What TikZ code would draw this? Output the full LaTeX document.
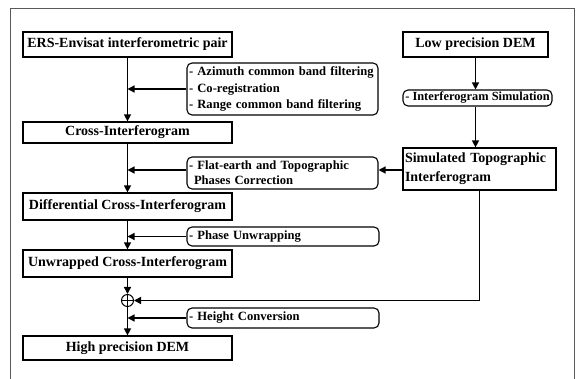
\documentclass[tikz,border=0pt]{standalone}
\usepackage{fontspec}
\setmainfont{Liberation Serif}
\usetikzlibrary{arrows.meta,calc}
\begin{document}
\begin{tikzpicture}[x=1pt,y=-1pt,
  titlebox/.style={draw=black,line width=1.2pt,inner sep=0pt,minimum height=#1,
     font=\fontsize{14}{17}\selectfont\bfseries},
  procbox/.style={draw=black,line width=1.1pt,rounded corners=5pt,inner xsep=2pt,inner ysep=0pt,
     minimum height=#1,align=left,font=\fontsize{12.6}{16.5}\selectfont\bfseries},
  arr/.style={line width=1.3pt,-{Triangle[length=7pt,width=7pt]}}]
\useasboundingbox (0,0) rectangle (582,379);
% outer frame
\draw[gray!70!black,line width=0.7pt] (10,381) -- (10,8) -- (574,8) -- (574,381);
% left column
\node[titlebox=25pt,minimum width=209pt] (ers) at (127.5,44.5) {ERS-Envisat interferometric pair};
\node[titlebox=21pt,minimum width=209pt] (cross) at (127.5,132.5) {Cross-Interferogram};
\node[titlebox=27pt,minimum width=209pt] (diff) at (127.5,206.5) {Differential Cross-Interferogram};
\node[titlebox=27pt,minimum width=209pt] (unwr) at (127.5,263.5) {Unwrapped Cross-Interferogram};
\node[draw=black,line width=1pt,circle,minimum size=12pt,inner sep=0pt] (circ) at (127.5,300.5) {};
\draw[line width=1pt] (circ.north) -- (circ.south) (circ.west) -- (circ.east);
\node[titlebox=24pt,minimum width=209pt] (high) at (127.5,348) {High precision DEM};
% right column
\node[titlebox=25pt,minimum width=145pt] (low) at (475.5,44.5) {Low precision DEM};
\node[procbox=16pt,minimum width=149pt,inner xsep=1pt,font=\fontsize{12.4}{15}\selectfont\bfseries] (isim) at (477.5,98) {- Interferogram Simulation};
\node[titlebox=42pt,minimum width=153pt,align=left,text width=149pt,font=\fontsize{14}{19}\selectfont\bfseries] (simt) at (479.5,169) {Simulated Topographic\\Interferogram};
% process boxes
\node[procbox=52pt,text width=187pt] (p1) at (282.5,89) {- Azimuth common band filtering\\- Co-registration\\- Range common band filtering};
\node[procbox=32pt,text width=187pt,font=\fontsize{12.6}{15}\selectfont\bfseries] (flat) at (282.5,173) {- Flat-earth and Topographic\\\hspace*{5pt}Phases Correction};
\node[procbox=19pt,text width=188pt] (phase) at (283,236.5) {- Phase Unwrapping};
\node[procbox=20pt,text width=188pt] (hconv) at (283,318) {- Height Conversion};
% junction coordinates
\coordinate (j1) at (ers.south |- p1.west);
\coordinate (j2) at (ers.south |- 0,170);
\coordinate (j3) at (ers.south |- phase.west);
\coordinate (j4) at (ers.south |- hconv.west);
% main line
\draw[arr] (ers.south) -- (cross.north);
\draw[arr] (cross.south) -- (diff.north);
\draw[arr] (diff.south) -- (unwr.north);
\draw[arr] (unwr.south) -- (circ.north);
\draw[arr] (circ.south) -- (high.north);
% side arrows
\draw[arr] (p1.west) -- (j1);
\draw[arr] (flat.west |- j2) -- (j2);
\draw[arr] (phase.west) -- (j3);
\draw[arr] (hconv.west) -- (j4);
% right column arrows
\draw[arr] (low.south) -- (low.south |- isim.north);
\draw[arr] (low.south |- isim.south) -- (low.south |- simt.north);
\draw[arr] (simt.west |- 0,170) -- (flat.east |- 0,170);
\draw[arr] (simt.south) |- (circ.east);
\end{tikzpicture}
\end{document}
